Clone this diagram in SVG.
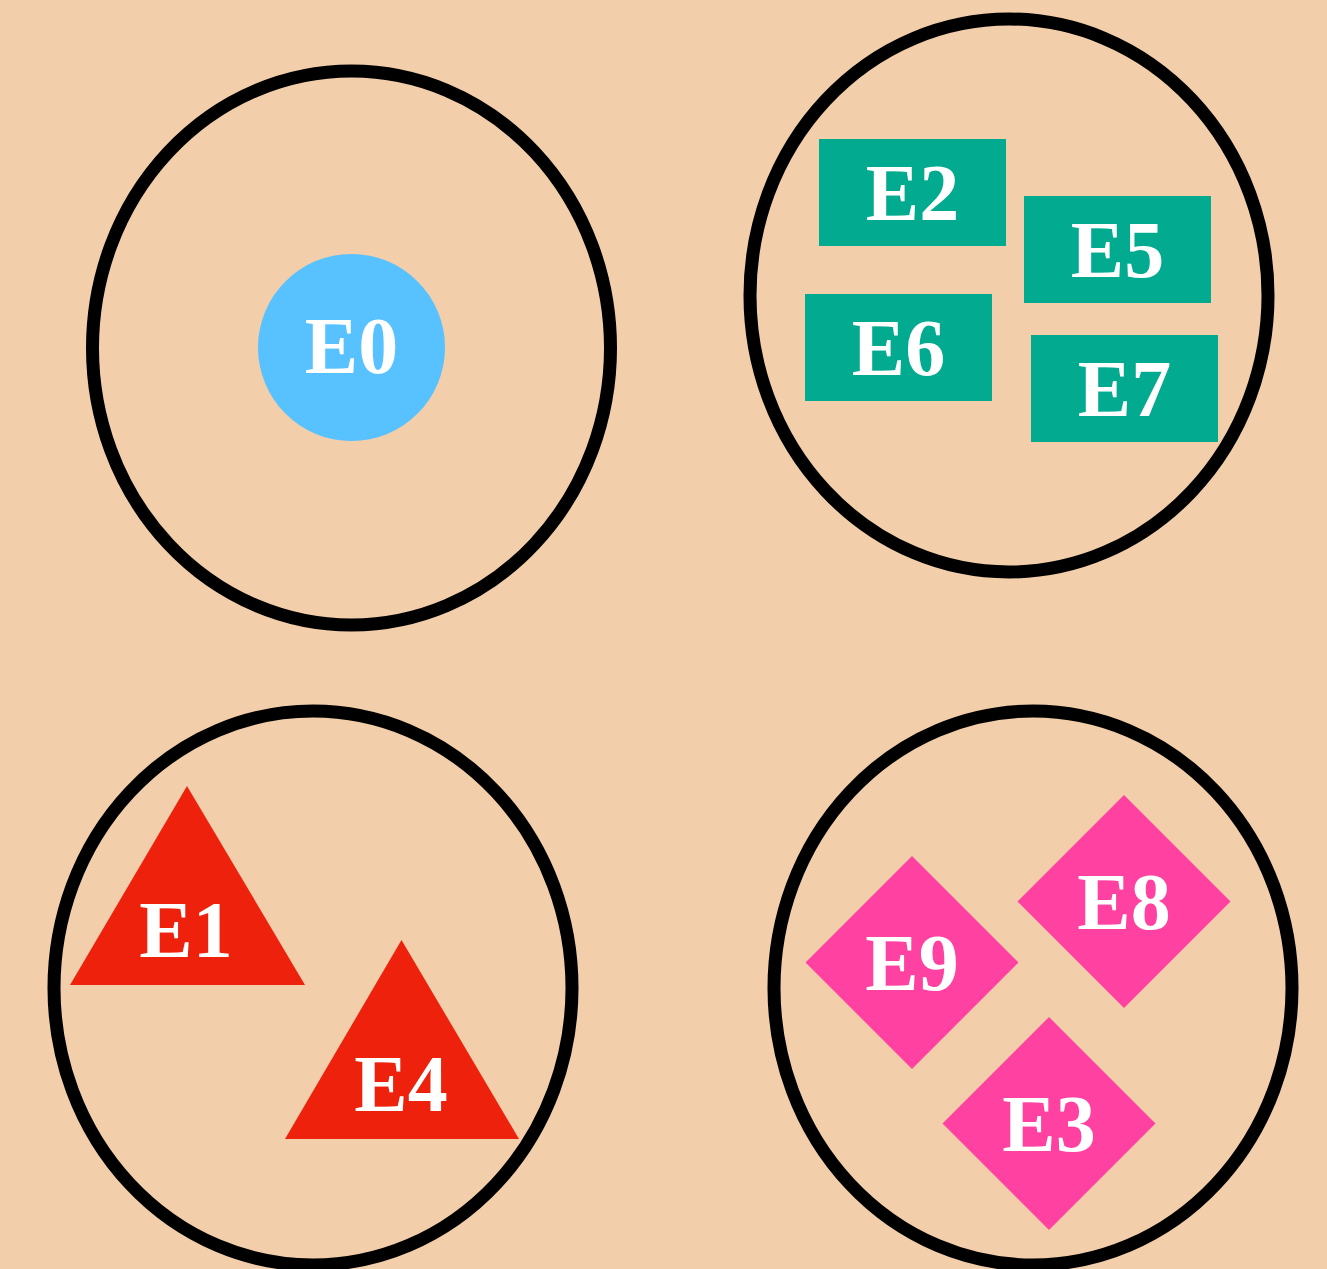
<svg xmlns="http://www.w3.org/2000/svg" width="1327" height="1269" viewBox="0 0 1327 1269">
<style>
.grp{fill:none;stroke:#000;stroke-width:13}
.lbl{font-family:"Liberation Serif","Times New Roman",serif;font-weight:bold;font-size:80px;fill:#fff;text-anchor:middle}
.circ{fill:#58C1FF}
.rect{fill:#02AB8F}
.tri{fill:#EE220C}
.dia{fill:#FF42A1}
</style>
<rect x="0" y="0" width="1327" height="1269" fill="#F2CEAA"/>
<g id="groups">
<ellipse class="grp" cx="351.5" cy="348" rx="259" ry="277"/>
<ellipse class="grp" cx="1009" cy="295.5" rx="259" ry="276.5"/>
<ellipse class="grp" cx="313" cy="988" rx="259" ry="277"/>
<ellipse class="grp" cx="1033" cy="988" rx="259" ry="277"/>
</g>
<g id="connectors"></g>
<g id="E0"><circle class="circ" cx="351.5" cy="347.5" r="93.5"/><text class="lbl" x="351.5" y="373">E0</text></g>
<g id="E2"><rect class="rect" x="819" y="139" width="187" height="107"/><text class="lbl" x="912.5" y="220">E2</text></g>
<g id="E5"><rect class="rect" x="1024" y="196" width="187" height="107"/><text class="lbl" x="1117.5" y="277">E5</text></g>
<g id="E6"><rect class="rect" x="805" y="294" width="187" height="107"/><text class="lbl" x="898.5" y="375">E6</text></g>
<g id="E7"><rect class="rect" x="1031" y="335" width="187" height="107"/><text class="lbl" x="1124.5" y="416">E7</text></g>
<g id="E1"><polygon class="tri" points="187,786 305,985 70,985"/><text class="lbl" x="186" y="957">E1</text></g>
<g id="E4"><polygon class="tri" points="401.5,940 519,1139 285,1139"/><text class="lbl" x="401" y="1110.5">E4</text></g>
<g id="E9"><polygon class="dia" points="912,856 1018.5,962.5 912,1069 805.5,962.5"/><text class="lbl" x="912" y="990">E9</text></g>
<g id="E8"><polygon class="dia" points="1124,795 1230.5,901.5 1124,1008 1017.5,901.5"/><text class="lbl" x="1124" y="929">E8</text></g>
<g id="E3"><polygon class="dia" points="1049,1017 1155.5,1123.5 1049,1230 942.5,1123.5"/><text class="lbl" x="1049" y="1151">E3</text></g>
</svg>
